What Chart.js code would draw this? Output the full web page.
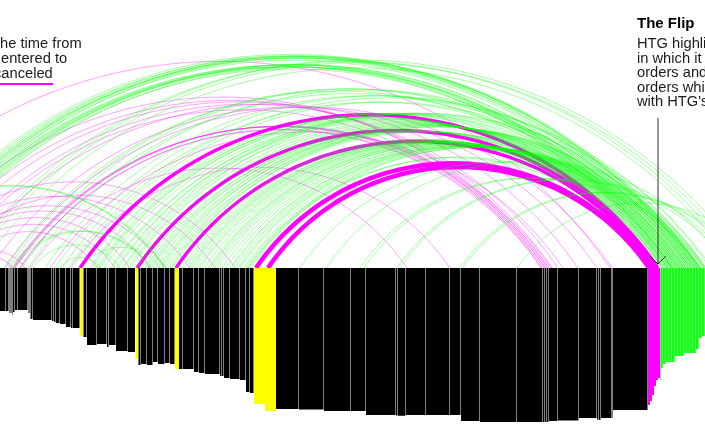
<!DOCTYPE html>
<html>
<head>
<meta charset="utf-8">
<script src="https://cdn.jsdelivr.net/npm/chart.js@4"></script>
<style>
    html, body { margin: 0; padding: 0; background: #fff; overflow: hidden; }
    #wrap { position: relative; width: 705px; height: 431px; overflow: hidden; }
    canvas { position: absolute; left: 0; top: 0; }
    #bookChart { z-index: 5; }
    .note { position: absolute; font: 14.7px/15px "Liberation Sans", Arial, sans-serif; color: #1a1a1a; white-space: nowrap; }
    .title { font-weight: bold; font-size: 15px; color: #000; }
    svg { position: absolute; left: 0; top: 0; }
</style>
</head>
<body>
<div id="wrap">
    <canvas id="arcChart" width="705" height="431"></canvas>
    <div class="note" style="left:-4px;top:36px">the time from</div>
    <div class="note" style="left:1px;top:51px">entered to</div>
    <div class="note" style="left:-6px;top:66px">canceled</div>
    <div class="title note" style="left:637px;top:15px">The Flip</div>
    <div class="note" style="left:637px;top:36px">HTG highlights</div>
    <div class="note" style="left:637px;top:50.5px">in which it</div>
    <div class="note" style="left:637px;top:65px">orders and</div>
    <div class="note" style="left:637px;top:79.5px">orders which</div>
    <div class="note" style="left:637px;top:94px">with HTG's</div>
    <svg width="705" height="431">
        <line x1="0" y1="84" x2="53" y2="84" stroke="#ff00ff" stroke-width="2"/>
        <line x1="658" y1="118" x2="658" y2="264" stroke="#333" stroke-width="1"/>
        <polyline points="650,256 658,264 666,256" fill="none" stroke="#222" stroke-width="1"/>
    </svg>
    <canvas id="bookChart" width="705" height="431"></canvas>
</div>
<script>
// Order book columns, left edge and depth below the baseline
const barLeft = [0, 6, 9, 10, 11, 12, 13, 15, 18, 28, 29, 30, 31, 33, 52, 54, 56, 60, 66, 71, 73,
    80, 83, 84, 87, 97, 107, 109, 116, 128, 135.5, 138, 139, 141, 147, 153, 158, 165, 170,
    175, 179, 183, 194, 199, 205, 220, 222, 224, 230, 240, 246, 250,
    254, 265, 276, 299, 324, 351, 366, 396, 398, 406, 426, 450, 461, 480, 517, 543, 545, 547,
    549, 558, 579, 597, 599, 601, 612, 613,
    648, 650, 652, 654, 656, 658,
    660, 661, 663, 666, 669, 672, 675, 678, 681, 684, 687, 690, 693, 696, 699, 702];
const barDepth = [43, 43, 45, 45, 45, 47, 44, 42, 42, 45, 45, 51, 51, 52, 53, 54, 55, 56, 59, 60, 60,
    68, 69, 69, 77, 76, 79, 77, 83, 84, 91, 97, 97, 96, 97, 94, 96, 95, 96,
    101, 101, 101, 104, 105, 106, 108, 108, 110, 111, 112, 124, 125,
    136, 143, 141, 141.5, 143, 143, 147, 147.5, 147.7, 147, 147, 147, 153, 154, 154, 154, 154, 154,
    153, 152.5, 150, 151.5, 152, 150, 150, 142,
    137, 133, 127, 118, 112, 110,
    112, 100, 96, 94, 94, 94, 88, 88, 88, 85, 85, 85, 85, 81, 70, 68];
const barKind = ['k', 'k', 'k', 'k', 'k', 'k', 'k', 'k', 'k', 'k', 'k', 'k', 'k', 'k', 'k', 'k', 'k', 'k', 'k', 'k', 'k',
    'y', 'k', 'k', 'k', 'k', 'k', 'k', 'k', 'k', 'y', 'k', 'k', 'k', 'k', 'k', 'k', 'k', 'k',
    'y', 'k', 'k', 'k', 'k', 'k', 'k', 'k', 'k', 'k', 'k', 'k', 'k',
    'y', 'y', 'k', 'k', 'k', 'k', 'k', 'k', 'k', 'k', 'k', 'k', 'k', 'k', 'k', 'k', 'k', 'k',
    'k', 'k', 'k', 'k', 'k', 'k', 'k', 'k',
    'm', 'm', 'm', 'm', 'm', 'm',
    'g', 'g', 'g', 'g', 'g', 'g', 'g', 'g', 'g', 'g', 'g', 'g', 'g', 'g', 'g', 'g'];

// Order lifetimes, entered position to canceled position
const greenEntered = [-112, -109, -106, -104, -103, -101, -100, -98, -96,
    -95, -93, -92, -90, -88, -87, -85, -83, -81,
    -40, -35, -30, -20,
    4, 8, 14, 22, 28, 45, 55, 62, 68, 72,
    90, 96, 100, 112, 118, 122, 128,
    145, 150, 155, 160, 165, 170, 185, 190, 195, 200, 210, 215, 222, 230, 235, 240, 246, 249,
    300, 326, 360, 364, 397, 400, 460, 463, 517,
    -147, -143, 10, 14, 33, 60, 82,
    92, 98, 104, 110, 116, 124, 130, 136, 142, 148, 152, 158, 162, 168, 172, 178, 182, 188, 192, 198,
    204, 208, 212, 218, 226, 232, 238, 244, 248, 251];
const greenCanceled = [694, 690, 696, 688, 695, 692, 699, 686, 697,
    672, 666, 675, 670, 680, 673, 682, 668, 677,
    740, 750, 745, 735,
    672, 684, 690, 680, 700, 695, 705, 688, 710, 698,
    672, 678, 684, 692, 700, 706, 712,
    664, 668, 672, 676, 680, 684, 663, 666, 670, 674, 678, 682, 686, 690, 694, 698, 662, 668,
    700, 730, 700, 704, 730, 735, 745, 748, 763,
    165, 166, 150, 152, 120, 100, 160,
    662, 665, 668, 671, 674, 677, 680, 683, 686, 689, 692, 695, 698, 701, 704, 663, 667, 670, 673, 676,
    679, 682, 685, 688, 691, 694, 697, 700, 703, 706];
const magentaEntered = [-170, -100, -85, -75, -60, -55, -40, -10, 20, 50,
    12, 13, 14, 15, 20, 5, 70,
    -90, -60, -80, -70, -65, -60, -50, -40, -30, -40, 30];
const magentaCanceled = [610, 545, 548, 552, 558, 542, 578, 597, 541, 563,
    545, 547, 549, 551, 543, 612, 450,
    235, 215, 190, 165, 150, 130, 115, 97, 12, 25, 407];
const heavyEntered = [80, 137, 176, 256, 268];
const heavyCanceled = [658, 656, 654, 651, 649];
const heavyWeight = [3.5, 3.5, 3.5, 4.5, 4.5];

// Circular segment between two baseline positions, rise is a fixed share of the half span
function arcPoints(start, end) {
    const half = (end - start) / 2;
    const rise = half * 0.53;
    const radius = (half * half + rise * rise) / (2 * rise);
    const sweep = Math.asin(half / radius);
    const pts = [];
    for (let i = 0; i <= 60; i++) {
        const a = -sweep + (2 * sweep * i) / 60;
        pts.push({ x: (start + end) / 2 + radius * Math.sin(a), y: radius * Math.cos(a) - (radius - rise) });
    }
    return pts;
}

function arcDataset(start, end, color, width, order) {
    return {
        type: 'line',
        data: arcPoints(start, end),
        borderColor: color,
        borderWidth: width,
        pointRadius: 0,
        fill: false,
        tension: 0,
        order: order
    };
}

const kindColor = { k: '#000000', y: '#ffff00', m: '#ff00ff', g: '#11ff11' };

const bookSets = [];
barLeft.forEach(function(left, i) {
    const right = i + 1 < barLeft.length ? barLeft[i + 1] : 705;
    const gap = barKind[i] === 'k' ? 0.5 : barKind[i] === 'g' ? 0.3 : 0;
    bookSets.push({
        type: 'bar',
        stack: 'book',
        data: [{ x: (left + right - gap) / 2, y: [0, -barDepth[i]] }],
        barThickness: right - left - gap,
        backgroundColor: kindColor[barKind[i]],
        inflateAmount: 0
    });
});

const arcSets = [];
magentaEntered.forEach(function(s, i) {
    arcSets.push(arcDataset(s, magentaCanceled[i], 'rgba(255, 0, 255, 0.4)', 0.9, 2));
});
heavyEntered.forEach(function(s, i) {
    arcSets.push(arcDataset(s, heavyCanceled[i], '#ff00ff', heavyWeight[i], 2));
});
greenEntered.forEach(function(s, i) {
    arcSets.push(arcDataset(s, greenCanceled[i], 'rgba(0, 255, 0, 0.45)', 0.8, 1));
});

function drawChart(id, type, sets) {
    return new Chart(document.getElementById(id).getContext('2d'), {
        type: type,
        data: { datasets: sets },
        options: {
            responsive: false,
            animation: false,
            layout: { padding: 0 },
            plugins: { legend: { display: false }, tooltip: { enabled: false } },
            scales: {
                x: { type: 'linear', min: 0, max: 705, offset: false, display: false },
                y: { min: -163, max: 268, display: false }
            }
        }
    });
}

drawChart('arcChart', 'line', arcSets);
drawChart('bookChart', 'bar', bookSets);
</script>
</body>
</html>
